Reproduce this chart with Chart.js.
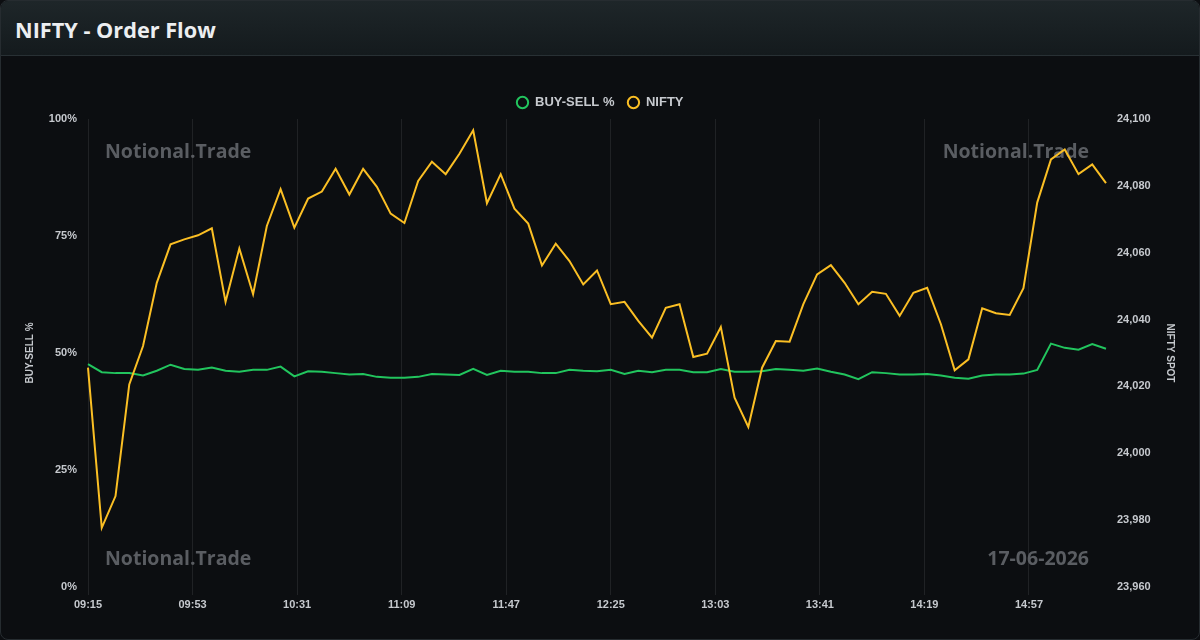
<!DOCTYPE html>
<html>
<head>
<meta charset="utf-8">
<script src="https://cdn.jsdelivr.net/npm/chart.js@4.4.1/dist/chart.umd.min.js"></script>
<style>
    html, body { margin: 0; padding: 0; background: #0c0e11; }
    .card {
        position: relative;
        width: 1198px;
        height: 638px;
        border: 1px solid #262c30;
        border-radius: 8px;
        overflow: hidden;
        background: #0c0e11;
    }
    .header {
        height: 55px;
        background: linear-gradient(180deg, #1e2629 0%, #141a1d 100%);
        border-bottom: 1px solid #283034;
        box-sizing: border-box;
    }
    .header h1 {
        margin: 0;
        padding: 14px 0 0 14px;
        font-family: 'Open Sans', 'Noto Sans', sans-serif;
        font-weight: 700;
        font-size: 21.7px;
        line-height: 30px;
        color: #eceef0;
    }
    .chart-wrap {
        position: absolute;
        left: -1px;
        top: 57px;
        width: 1200px;
        height: 583px;
    }
</style>
</head>
<body>
<div class="card">
    <div class="header"><h1>NIFTY - Order Flow</h1></div>
    <div class="chart-wrap"><canvas id="flowChart"></canvas></div>
</div>

<script>
// Session window: one category per minute, 09:15 -> 15:25
const sessionStart = '09:15';
const sessionEnd = '15:25';

// Sample times (every 5 minutes)
const sampleTimes = [
    '09:15', '09:20', '09:25', '09:30', '09:35', '09:40', '09:45', '09:50', '09:55', '10:00',
    '10:05', '10:10', '10:15', '10:20', '10:25', '10:30', '10:35', '10:40', '10:45', '10:50',
    '10:55', '11:00', '11:05', '11:10', '11:15', '11:20', '11:25', '11:30', '11:35', '11:40',
    '11:45', '11:50', '11:55', '12:00', '12:05', '12:10', '12:15', '12:20', '12:25', '12:30',
    '12:35', '12:40', '12:45', '12:50', '12:55', '13:00', '13:05', '13:10', '13:15', '13:20',
    '13:25', '13:30', '13:35', '13:40', '13:45', '13:50', '13:55', '14:00', '14:05', '14:10',
    '14:15', '14:20', '14:25', '14:30', '14:35', '14:40', '14:45', '14:50', '14:55', '15:00',
    '15:05', '15:10', '15:15', '15:20', '15:25'
];

const buySellPct = [
    47.6, 45.9, 45.7, 45.7, 45.2, 46.2, 47.5, 46.6, 46.4, 46.9,
    46.2, 46.0, 46.4, 46.4, 47.1, 45.0, 46.1, 46.0, 45.7, 45.4,
    45.5, 44.9, 44.7, 44.7, 44.9, 45.5, 45.4, 45.3, 46.6, 45.3,
    46.2, 46.0, 46.0, 45.7, 45.7, 46.4, 46.2, 46.1, 46.4, 45.5,
    46.2, 45.9, 46.4, 46.4, 45.9, 45.9, 46.6, 46.0, 46.0, 46.1,
    46.6, 46.4, 46.2, 46.7, 46.0, 45.4, 44.4, 45.9, 45.7, 45.4,
    45.4, 45.5, 45.2, 44.7, 44.5, 45.2, 45.4, 45.4, 45.6, 46.4,
    52.0, 51.1, 50.7, 51.9, 50.9
];

const niftySpot = [
    24025.6, 23977.7, 23987.2, 24020.6, 24032.1, 24051.0, 24062.5, 24064.0, 24065.2, 24067.3,
    24045.3, 24061.3, 24047.6, 24068.0, 24079.0, 24067.5, 24076.2, 24078.3, 24085.1, 24077.4,
    24085.1, 24079.7, 24071.7, 24068.9, 24081.5, 24087.2, 24083.5, 24089.6, 24096.6, 24074.8,
    24083.5, 24073.2, 24068.7, 24056.2, 24062.7, 24057.5, 24050.5, 24054.7, 24044.6, 24045.3,
    24039.6, 24034.6, 24043.5, 24044.6, 24028.8, 24029.8, 24037.8, 24016.6, 24007.9, 24025.6,
    24033.6, 24033.4, 24044.6, 24053.5, 24056.3, 24051.0, 24044.6, 24048.3, 24047.7, 24041.1,
    24048.0, 24049.5, 24038.6, 24024.8, 24028.1, 24043.4, 24041.9, 24041.4, 24049.4, 24075.0,
    24087.9, 24090.9, 24083.5, 24086.4, 24080.8
];

const watermarkText = 'Notional.Trade';
const sessionDate = '17-06-2026';

const TEXT_COLOR = '#c6c9ce';
const GRID_COLOR = 'rgba(255, 255, 255, 0.085)';

function toMinutes(t) {
    const [h, m] = t.split(':').map(Number);
    return h * 60 + m;
}

function minuteLabels(from, to) {
    const out = [];
    for (let m = toMinutes(from); m <= toMinutes(to); m++) {
        const h = String(Math.floor(m / 60)).padStart(2, '0');
        out.push(h + ':' + String(m % 60).padStart(2, '0'));
    }
    return out;
}

// Faint brand / date stamps inside the plot area
const watermarkPlugin = {
    id: 'watermark',
    beforeDatasetsDraw(chart) {
        const { ctx, chartArea: a } = chart;
        ctx.save();
        ctx.font = "700 19.5px 'Open Sans', 'Noto Sans', sans-serif";
        ctx.fillStyle = '#5a5d62';
        ctx.textBaseline = 'middle';
        ctx.textAlign = 'left';
        ctx.fillText(watermarkText, a.left + 17, a.top + 33);
        ctx.fillText(watermarkText, a.left + 17, a.bottom - 28);
        ctx.textAlign = 'right';
        ctx.fillText(watermarkText, a.right - 17, a.top + 33);
        ctx.fillText(sessionDate, a.right - 17, a.bottom - 28);
        ctx.restore();
    }
};

const tickFont = { family: "'Liberation Sans', Arial, sans-serif", size: 11, weight: 'bold' };

new Chart(document.getElementById('flowChart'), {
    type: 'line',
    data: {
        labels: minuteLabels(sessionStart, sessionEnd),
        datasets: [
            {
                label: 'BUY-SELL %',
                data: sampleTimes.map((t, i) => ({ x: t, y: buySellPct[i] })),
                borderColor: '#22c55e',
                backgroundColor: 'transparent',
                borderWidth: 2,
                pointRadius: 0,
                tension: 0,
                yAxisID: 'y',
                order: 1
            },
            {
                label: 'NIFTY',
                data: sampleTimes.map((t, i) => ({ x: t, y: niftySpot[i] })),
                borderColor: '#fbbf24',
                backgroundColor: 'transparent',
                borderWidth: 2,
                pointRadius: 0,
                tension: 0,
                yAxisID: 'y1',
                order: 0
            }
        ]
    },
    options: {
        responsive: true,
        maintainAspectRatio: false,
        animation: false,
        layout: { padding: { top: 25, left: 20, right: 20, bottom: 0 } },
        plugins: {
            legend: {
                position: 'top',
                labels: {
                    usePointStyle: true,
                    pointStyle: 'circle',
                    boxWidth: 12,
                    boxHeight: 8,
                    padding: 13,
                    color: TEXT_COLOR,
                    font: { family: "'Liberation Sans', Arial, sans-serif", size: 13, weight: 'bold' },
                    sort: (a, b) => a.datasetIndex - b.datasetIndex
                }
            },
            tooltip: { enabled: false }
        },
        scales: {
            x: {
                type: 'category',
                grid: { color: GRID_COLOR, drawTicks: true, tickLength: 8 },
                border: { display: false },
                ticks: {
                    color: TEXT_COLOR,
                    font: tickFont,
                    maxRotation: 0,
                    minRotation: 0,
                    autoSkip: true,
                    maxTicksLimit: 10
                },
                afterFit: (s) => { s.height = 54; }
            },
            y: {
                position: 'left',
                min: 0,
                max: 100,
                grid: { display: false },
                border: { display: false },
                ticks: {
                    stepSize: 25,
                    color: TEXT_COLOR,
                    font: tickFont,
                    callback: (v) => v + '%'
                },
                title: {
                    display: true,
                    text: 'BUY-SELL %',
                    color: TEXT_COLOR,
                    font: { family: "'Liberation Sans', Arial, sans-serif", size: 10, weight: 'bold' }
                },
                afterFit: (s) => { s.width = 68; }
            },
            y1: {
                position: 'right',
                min: 23960,
                max: 24100,
                grid: { display: false },
                border: { display: false },
                ticks: {
                    stepSize: 20,
                    color: TEXT_COLOR,
                    font: tickFont,
                    callback: (v) => v.toLocaleString('en-US')
                },
                title: {
                    display: true,
                    text: 'NIFTY SPOT',
                    color: TEXT_COLOR,
                    font: { family: "'Liberation Sans', Arial, sans-serif", size: 10, weight: 'bold' }
                },
                afterFit: (s) => { s.width = 74; }
            }
        }
    },
    plugins: [watermarkPlugin]
});
</script>
</body>
</html>
